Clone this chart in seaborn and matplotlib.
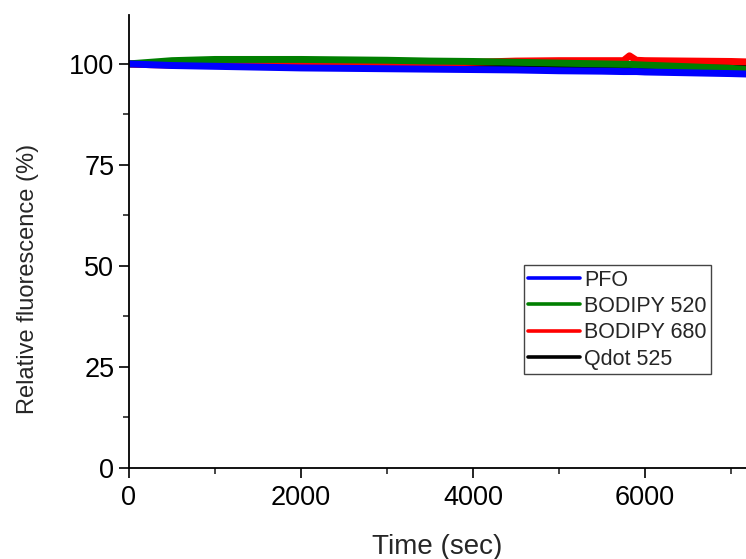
import numpy as np
import pandas as pd
import matplotlib
matplotlib.use('Agg')
import matplotlib.pyplot as plt
from matplotlib.ticker import MultipleLocator
import seaborn as sns

## values (time in sec, relative fluorescence in %)
time_sec = [0, 250, 500, 1000, 1500, 2000, 2500, 3000, 3500, 4000, 4500,
            5000, 5500, 5750, 5820, 5900, 6000, 6500, 7000, 7175]
pfo = [100.0, 99.8, 99.6, 99.4, 99.2, 99.0, 98.9, 98.8, 98.7, 98.6, 98.5,
       98.3, 98.2, 98.1, 98.1, 98.1, 98.0, 97.8, 97.6, 97.5]
bodipy520 = [100.0, 100.4, 100.8, 101.1, 101.1, 101.1, 101.0, 100.9, 100.7, 100.6, 100.4,
             100.2, 100.0, 99.9, 99.9, 99.8, 99.7, 99.3, 98.9, 98.6]
bodipy680 = [100.0, 99.8, 99.7, 99.7, 99.7, 99.8, 99.8, 99.9, 100.1, 100.4, 100.7,
             100.8, 100.8, 100.8, 102.0, 100.9, 100.8, 100.7, 100.6, 100.5]
qdot525 = [100.0, 99.9, 99.8, 99.7, 99.6, 99.6, 99.6, 99.5, 99.5, 99.5, 99.5,
           99.5, 99.5, 99.5, 99.5, 99.5, 99.5, 99.4, 99.3, 99.2]

labels = ['PFO', 'BODIPY 520', 'BODIPY 680', 'Qdot 525']
colors = ['#0000ff', '#007f00', '#ff0000', '#000000']

df = pd.DataFrame({
    'time': time_sec * 4,
    'value': pfo + bodipy520 + bodipy680 + qdot525,
    'series': [lab for lab in labels for _ in time_sec],
})

sns.set_style('ticks')
plt.rcParams['font.family'] = ['Liberation Sans', 'DejaVu Sans']

fig = plt.figure(figsize=(7.46, 5.59), dpi=100)
ax = fig.add_axes([129 / 746, 1 - 468 / 559, 1 - 129 / 746, (468 - 15) / 559])

# draw black first so the coloured bands sit over it
draw_order = ['Qdot 525', 'BODIPY 680', 'BODIPY 520', 'PFO']
sns.lineplot(data=df, x='time', y='value', hue='series', hue_order=draw_order,
             palette=dict(zip(labels, colors)), linewidth=5, ax=ax, legend=False)

ax.set_xlim(0, 7175)
ax.set_ylim(0, 112.1)
ax.xaxis.set_major_locator(MultipleLocator(2000))
ax.xaxis.set_minor_locator(MultipleLocator(1000))
ax.yaxis.set_major_locator(MultipleLocator(25))
ax.yaxis.set_minor_locator(MultipleLocator(12.5))
ax.tick_params(which='major', length=7, width=1.2, labelsize=19.5, colors='black', pad=3.5)
ax.tick_params(which='minor', length=4, width=1.2)
ax.tick_params(axis='x', which='major', pad=5)
for s in ['top', 'right']:
    ax.spines[s].set_visible(False)
for s in ['left', 'bottom']:
    ax.spines[s].set_linewidth(1.3)
    ax.spines[s].set_color('black')

ax.set_xlabel('Time (sec)', fontsize=20, labelpad=17)
ax.set_ylabel('Relative fluorescence (%)', fontsize=17)
ax.yaxis.set_label_coords((39 - 129) / 617, (468 - 279) / 453)

handles = [plt.Line2D([], [], color=c, linewidth=2.6) for c in colors]
leg = ax.legend(handles, labels, loc='lower left',
                bbox_to_anchor=(524 / 746, 1 - 374 / 559), bbox_transform=fig.transFigure,
                fontsize=15.5, handlelength=2.4, handletextpad=0.2, borderpad=0.2,
                labelspacing=0.25, borderaxespad=0, fancybox=False, framealpha=1)
leg.get_frame().set_edgecolor('#444444')
leg.get_frame().set_linewidth(1.0)

fig.savefig('out.png', dpi=100)
